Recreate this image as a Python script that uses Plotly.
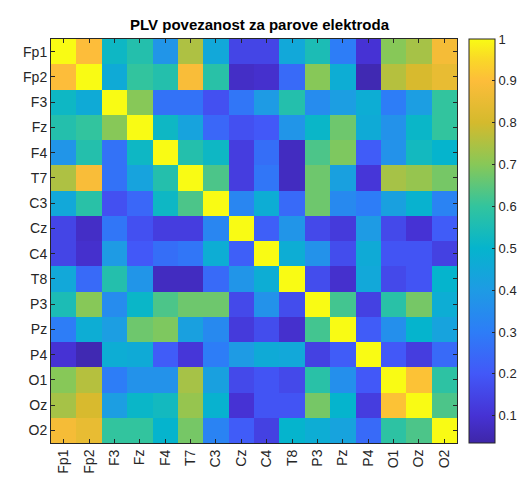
import plotly.graph_objects as go

labels = ["Fp1", "Fp2", "F3", "Fz", "F4", "T7", "C3", "Cz", "C4", "T8", "P3", "Pz", "P4", "O1", "Oz", "O2"]

row_Fp1 = [1.00, 0.90, 0.52, 0.57, 0.38, 0.75, 0.45, 0.15, 0.15, 0.45, 0.55, 0.30, 0.10, 0.70, 0.74, 0.88]
row_Fp2 = [0.90, 1.00, 0.46, 0.60, 0.57, 0.89, 0.58, 0.08, 0.09, 0.25, 0.70, 0.47, 0.05, 0.76, 0.81, 0.85]
row_F3 = [0.52, 0.46, 1.00, 0.70, 0.27, 0.27, 0.18, 0.28, 0.40, 0.57, 0.35, 0.41, 0.47, 0.30, 0.41, 0.60]
row_Fz = [0.57, 0.60, 0.70, 1.00, 0.52, 0.43, 0.24, 0.18, 0.20, 0.38, 0.51, 0.67, 0.46, 0.37, 0.51, 0.60]
row_F4 = [0.38, 0.57, 0.27, 0.52, 1.00, 0.57, 0.52, 0.13, 0.26, 0.07, 0.63, 0.69, 0.21, 0.37, 0.53, 0.50]
row_T7 = [0.75, 0.89, 0.27, 0.43, 0.57, 1.00, 0.63, 0.13, 0.28, 0.07, 0.67, 0.42, 0.11, 0.74, 0.72, 0.68]
row_C3 = [0.45, 0.58, 0.18, 0.24, 0.52, 0.63, 1.00, 0.33, 0.47, 0.25, 0.67, 0.34, 0.30, 0.42, 0.49, 0.32]
row_Cz = [0.15, 0.08, 0.28, 0.18, 0.13, 0.13, 0.33, 1.00, 0.22, 0.38, 0.16, 0.12, 0.40, 0.16, 0.10, 0.21]
row_C4 = [0.15, 0.09, 0.40, 0.20, 0.26, 0.28, 0.47, 0.22, 1.00, 0.47, 0.37, 0.17, 0.46, 0.19, 0.19, 0.14]
row_T8 = [0.45, 0.25, 0.57, 0.38, 0.07, 0.07, 0.25, 0.38, 0.47, 1.00, 0.17, 0.09, 0.45, 0.16, 0.19, 0.50]
row_P3 = [0.55, 0.70, 0.35, 0.51, 0.63, 0.67, 0.67, 0.16, 0.37, 0.17, 1.00, 0.62, 0.14, 0.58, 0.68, 0.47]
row_Pz = [0.30, 0.47, 0.41, 0.67, 0.69, 0.42, 0.34, 0.12, 0.17, 0.09, 0.62, 1.00, 0.21, 0.36, 0.50, 0.43]
row_P4 = [0.10, 0.05, 0.47, 0.46, 0.21, 0.11, 0.30, 0.40, 0.46, 0.45, 0.14, 0.21, 1.00, 0.20, 0.13, 0.25]
row_O1 = [0.70, 0.76, 0.30, 0.37, 0.37, 0.74, 0.42, 0.16, 0.19, 0.16, 0.58, 0.36, 0.20, 1.00, 0.91, 0.59]
row_Oz = [0.74, 0.81, 0.41, 0.51, 0.53, 0.72, 0.49, 0.10, 0.19, 0.19, 0.68, 0.50, 0.13, 0.91, 1.00, 0.63]
row_O2 = [0.88, 0.85, 0.60, 0.60, 0.50, 0.68, 0.32, 0.21, 0.14, 0.50, 0.47, 0.43, 0.25, 0.59, 0.63, 1.00]

z = [row_Fp1, row_Fp2, row_F3, row_Fz, row_F4, row_T7, row_C3, row_Cz,
     row_C4, row_T8, row_P3, row_Pz, row_P4, row_O1, row_Oz, row_O2]

cbar_ticks = [0.1, 0.2, 0.3, 0.4, 0.5, 0.6, 0.7, 0.8, 0.9, 1.0]
cbar_text = ["0.1", "0.2", "0.3", "0.4", "0.5", "0.6", "0.7", "0.8", "0.9", "1"]

zmin, zmax = 0.035, 1.0
stops = [
    (0.035, "rgb(62,38,168)"),
    (0.10, "rgb(70,50,212)"),
    (0.20, "rgb(66,88,248)"),
    (0.30, "rgb(45,125,247)"),
    (0.40, "rgb(30,155,228)"),
    (0.50, "rgb(5,180,205)"),
    (0.60, "rgb(50,196,158)"),
    (0.70, "rgb(135,200,88)"),
    (0.80, "rgb(212,186,45)"),
    (0.90, "rgb(253,189,58)"),
    (0.95, "rgb(250,215,40)"),
    (1.00, "rgb(249,251,20)"),
]
colorscale = [[(v - zmin) / (zmax - zmin), c] for v, c in stops]

FONT = "Liberation Sans, Arial"
DARK = "rgb(38,38,38)"

fig = go.Figure(go.Heatmap(
    z=z, x=labels, y=labels,
    zmin=zmin, zmax=zmax,
    colorscale=colorscale,
    colorbar=dict(
        x=1.03, xanchor="left", y=0.5, yanchor="middle", len=1.0, lenmode="fraction",
        thickness=26, outlinewidth=1, outlinecolor=DARK, xpad=0, ypad=0,
        tickvals=cbar_ticks, ticktext=cbar_text, ticks="inside", ticklen=3,
        tickcolor=DARK,
        tickfont=dict(family=FONT, size=13, color=DARK),
    ),
))

axis_common = dict(
    showline=True, linecolor=DARK, linewidth=1, mirror="ticks",
    ticks="inside", ticklen=4, tickcolor=DARK,
    showgrid=False, zeroline=False,
    tickfont=dict(family=FONT, size=14, color=DARK),
)

fig.update_xaxes(**axis_common, tickangle=-90)
fig.update_yaxes(**axis_common, autorange="reversed")

fig.update_layout(
    width=525, height=478,
    margin=dict(l=43, r=65, t=31, b=33),
    paper_bgcolor="white", plot_bgcolor="white",
    title=dict(text="<b>PLV povezanost za parove elektroda</b>",
               x=(43 + 417 / 2) / 525, xanchor="center", y=1 - 17 / 478, yanchor="middle",
               font=dict(family=FONT, size=15, color="black")),
)

fig.write_html("out.html")
